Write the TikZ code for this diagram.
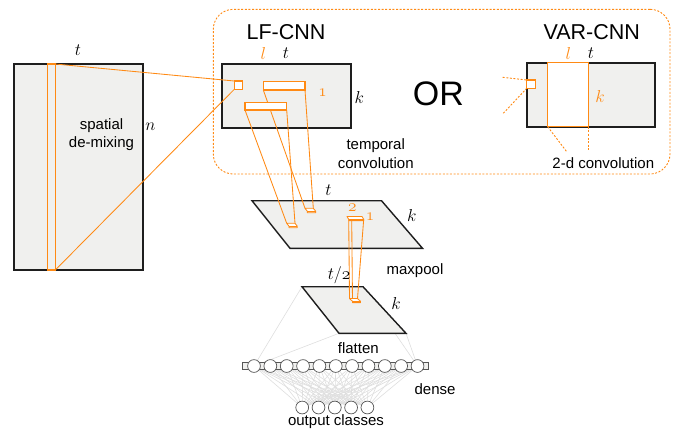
\documentclass[tikz,border=0pt]{standalone}
\usepackage{fontspec}
\setmainfont{Liberation Sans}
\usetikzlibrary{calc}
\definecolor{org}{RGB}{255,138,20}
\definecolor{panel}{RGB}{240,240,238}
\definecolor{edge}{RGB}{30,30,30}
\definecolor{faintc}{RGB}{222,222,222}
\begin{document}
\begin{tikzpicture}[x=1pt,y=-1pt,
  mapbox/.style={draw=edge,line width=1.8pt,fill=panel},
  corner/.style={anchor=north west,inner sep=0pt,outer sep=0pt},
  obox/.style={draw=org,line width=1.4pt,fill=white},
  oline/.style={draw=org,line width=0.85pt},
  oslab/.style={draw=org,line width=0.85pt,fill=white,line join=round},
  odash/.style={draw=org,line width=0.9pt,dash pattern=on 2pt off 1.6pt},
  faint/.style={draw=faintc,line width=0.6pt},
  txt/.style={font=\fontsize{15}{18.7}\selectfont,inner sep=0pt,align=center},
  mth/.style={font=\fontsize{17}{19}\selectfont,inner sep=0pt},
  ttl/.style={font=\fontsize{21.5}{24}\selectfont,inner sep=0pt},
  neuron/.style={circle,draw=edge!75,fill=white,minimum size=12.8pt,inner sep=0pt,line width=0.7pt}]
\useasboundingbox (0,0) rectangle (676,429);

% ---------- dashed group box ----------
\node[corner,draw=org,line width=0.9pt,dash pattern=on 2pt off 1.6pt,rounded corners=20pt,
      minimum width=456.7pt,minimum height=164.7pt] (group) at (213.3,9.3) {};

% ---------- dense layer coordinates ----------
\foreach \i in {0,...,10} \coordinate (n\i) at ({254+16.35*\i},366);
\foreach \j in {0,...,4} \coordinate (o\j) at ({302.2+16.3*\j},407.5);
\foreach \i in {0,...,10}{\foreach \j in {0,...,4}{\draw[faint] (n\i) -- (o\j);}}

% ---------- parallelogram 2 ----------
\coordinate (p2a) at (302,286.7);
\coordinate (p2b) at (363,286.7);
\coordinate (p2c) at (406,333.3);
\coordinate (p2d) at (339,333.3);
\draw[faint] (p2a) -- (n0); \draw[faint] (p2d) -- (n0);
\draw[faint] (p2b) -- (n10); \draw[faint] (p2c) -- (n10);
\draw[mapbox,line width=1.4pt] (p2a) -- (p2b) -- (p2c) -- (p2d) -- cycle;

% ---------- parallelogram 1 ----------
\coordinate (p1a) at (252,200.7);
\coordinate (p1b) at (381.5,200.7);
\coordinate (p1c) at (422.5,248.3);
\coordinate (p1d) at (290,248.3);
\draw[mapbox,line width=1.4pt] (p1a) -- (p1b) -- (p1c) -- (p1d) -- cycle;

% ---------- input ----------
\node[mapbox,corner,minimum width=129pt,minimum height=206pt] (inp) at (14,64) {};
\node[corner,draw=org,line width=1.2pt,minimum width=7.6pt,minimum height=206pt] (col) at (47.7,64) {};
\node[txt] (spat) at (101.5,134.5) {spatial\\de-mixing};
\node[mth] (tin) at (78,50) {$t$};
\node[mth] (nin) at (150.5,127) {$n$};

% ---------- LF-CNN ----------
\node[ttl] (lftitle) at (286,32) {LF-CNN};
\node[mth,text=org] (lfl) at (263.3,53) {$l$};
\node[mth] (lft) at (286,53) {$t$};
\node[mapbox,corner,minimum width=128.4pt,minimum height=63.4pt] (lf) at (222.3,64.3) {};
\node[mth] (lfk) at (359.3,97) {$k$};
\node[mth,text=org] (lfone) at (322.7,93) {$\mathnormal{1}$};
\node[txt] (temp) at (375.7,153.3) {temporal\\convolution};

% slabs on parallelogram 1
\coordinate (ua) at (305,208.3); \coordinate (ub) at (313.3,208.3);
\coordinate (uc) at (315.7,211.2); \coordinate (ud) at (307.3,211.2);
\coordinate (la) at (286.7,223.3); \coordinate (lb) at (295,223.3);
\coordinate (lc) at (297.3,226.2); \coordinate (ld) at (289,226.2);

% bars (coordinates of their lower corners)
\coordinate (ubsw) at (263.3,90); \coordinate (ubse) at (305,90);
\coordinate (lbsw) at (245,110); \coordinate (lbse) at (286.7,110);
\draw[oline] (ubsw) -- (ua); \draw[oline] (ubse) -- (ub);
\node[obox,corner,minimum width=41.7pt,minimum height=8.3pt] (ubar) at (263.3,81.7) {};
\draw[oline] (lbsw) -- (la); \draw[oline] (lbse) -- (lb);
\node[obox,corner,minimum width=41.7pt,minimum height=7.7pt] (lbar) at (245,102.3) {};

\draw[oslab] (ua) -- (ub) -- (uc) -- ++(0,1.5) -- ++(-8.4,0) -- (ud) -- cycle;
\draw[oline] (ud) -- (uc);
\draw[oslab] (la) -- (lb) -- (lc) -- ++(0,1.5) -- ++(-8.3,0) -- (ld) -- cycle;
\draw[oline] (ld) -- (lc);

% small square + lines from input
\node[obox,corner,fill=white,minimum width=8.4pt,minimum height=8.3pt] (lfsq) at (234.3,81) {};
\draw[oline] (col.north east) -- (lfsq.north west);
\draw[oline] (col.south east) -- (lfsq.south west);

% ---------- OR ----------
\node[font=\fontsize{34}{36}\selectfont,inner sep=0pt] (or) at (438.3,94.2) {OR};

% ---------- VAR-CNN ----------
\node[ttl] (vartitle) at (591.7,32.3) {VAR-CNN};
\node[mth,text=org] (varl) at (568.3,53) {$l$};
\node[mth] (vart) at (591,53) {$t$};
\node[mapbox,corner,minimum width=127.7pt,minimum height=64pt] (var) at (527.3,62.7) {};
\node[obox,corner,minimum width=41pt,minimum height=64pt] (varwin) at (547.7,62.7) {};
\node[mth,text=org] (vark) at (600,96) {$k$};
\node[obox,corner,minimum width=8.6pt,minimum height=8.3pt] (varsq) at (526.7,80) {};
\coordinate (vfree1) at (502.7,77.3);
\coordinate (vfree2) at (503.3,113.3);
\draw[odash] (vfree1) -- (varsq.north west);
\draw[odash] (vfree2) -- (varsq.south west);
\coordinate (vd1) at (566.7,151.7);
\coordinate (vd2) at (588.7,151.7);
\draw[odash] (varwin.south west) -- (vd1);
\draw[odash] (varwin.south east) -- (vd2);
\node[txt] (twod) at (603.3,162.7) {2-d convolution};

% ---------- parallelogram 1 labels ----------
\node[mth] (p1t) at (328.3,190.5) {$t$};
\node[mth] (p1k) at (411.7,215.5) {$k$};
\node[mth,text=org] (ptwo) at (352.3,207.5) {$\mathnormal{2}$};
\node[mth,text=org] (pone) at (370,216.5) {$\mathnormal{1}$};

% ---------- maxpool prism ----------
\coordinate (ma) at (347,216.5); \coordinate (mb) at (362,216.5);
\coordinate (mc) at (363.7,219.3); \coordinate (md) at (348.7,219.3);
\coordinate (ba) at (349.5,298.5); \coordinate (bb) at (357.5,298.5);
\coordinate (bc) at (360.5,301.3); \coordinate (bd) at (352.5,301.3);
\coordinate (me) at (351.7,219.6);
\draw[oline] (md) -- (ba);
\draw[oline] (me) -- (bd);
\draw[oline] (mc) -- (bb);
\draw[oslab] (ma) -- (mb) -- (mc) -- ++(0,1.3) -- ++(-15,0) -- (md) -- cycle;
\draw[oline] (md) -- (mc);
\draw[oslab] (ba) -- (bb) -- (bc) -- ++(0,1.3) -- ++(-8,0) -- (bd) -- cycle;
\draw[oline] (bd) -- (bc);

\node[txt] (maxp) at (415,270.7) {maxpool};
\node[mth] (p2t) at (339,275.5) {$t/\mathnormal{2}$};
\node[mth] (p2k) at (396,303) {$k$};

% ---------- dense ----------
\node[corner,draw=edge!75,fill=panel,line width=0.7pt,minimum width=185.6pt,minimum height=7.5pt] (bar) at (242.7,362.2) {};
\foreach \i in {0,...,10} \node[neuron] (nc\i) at (n\i) {};
\foreach \j in {0,...,4} \node[neuron] (oc\j) at (o\j) {};
\node[txt] (flat) at (358.3,348.3) {flatten};
\node[txt] (dense) at (435,389) {dense};
\node[txt] (outc) at (336,421.5) {output classes};
\end{tikzpicture}
\end{document}
